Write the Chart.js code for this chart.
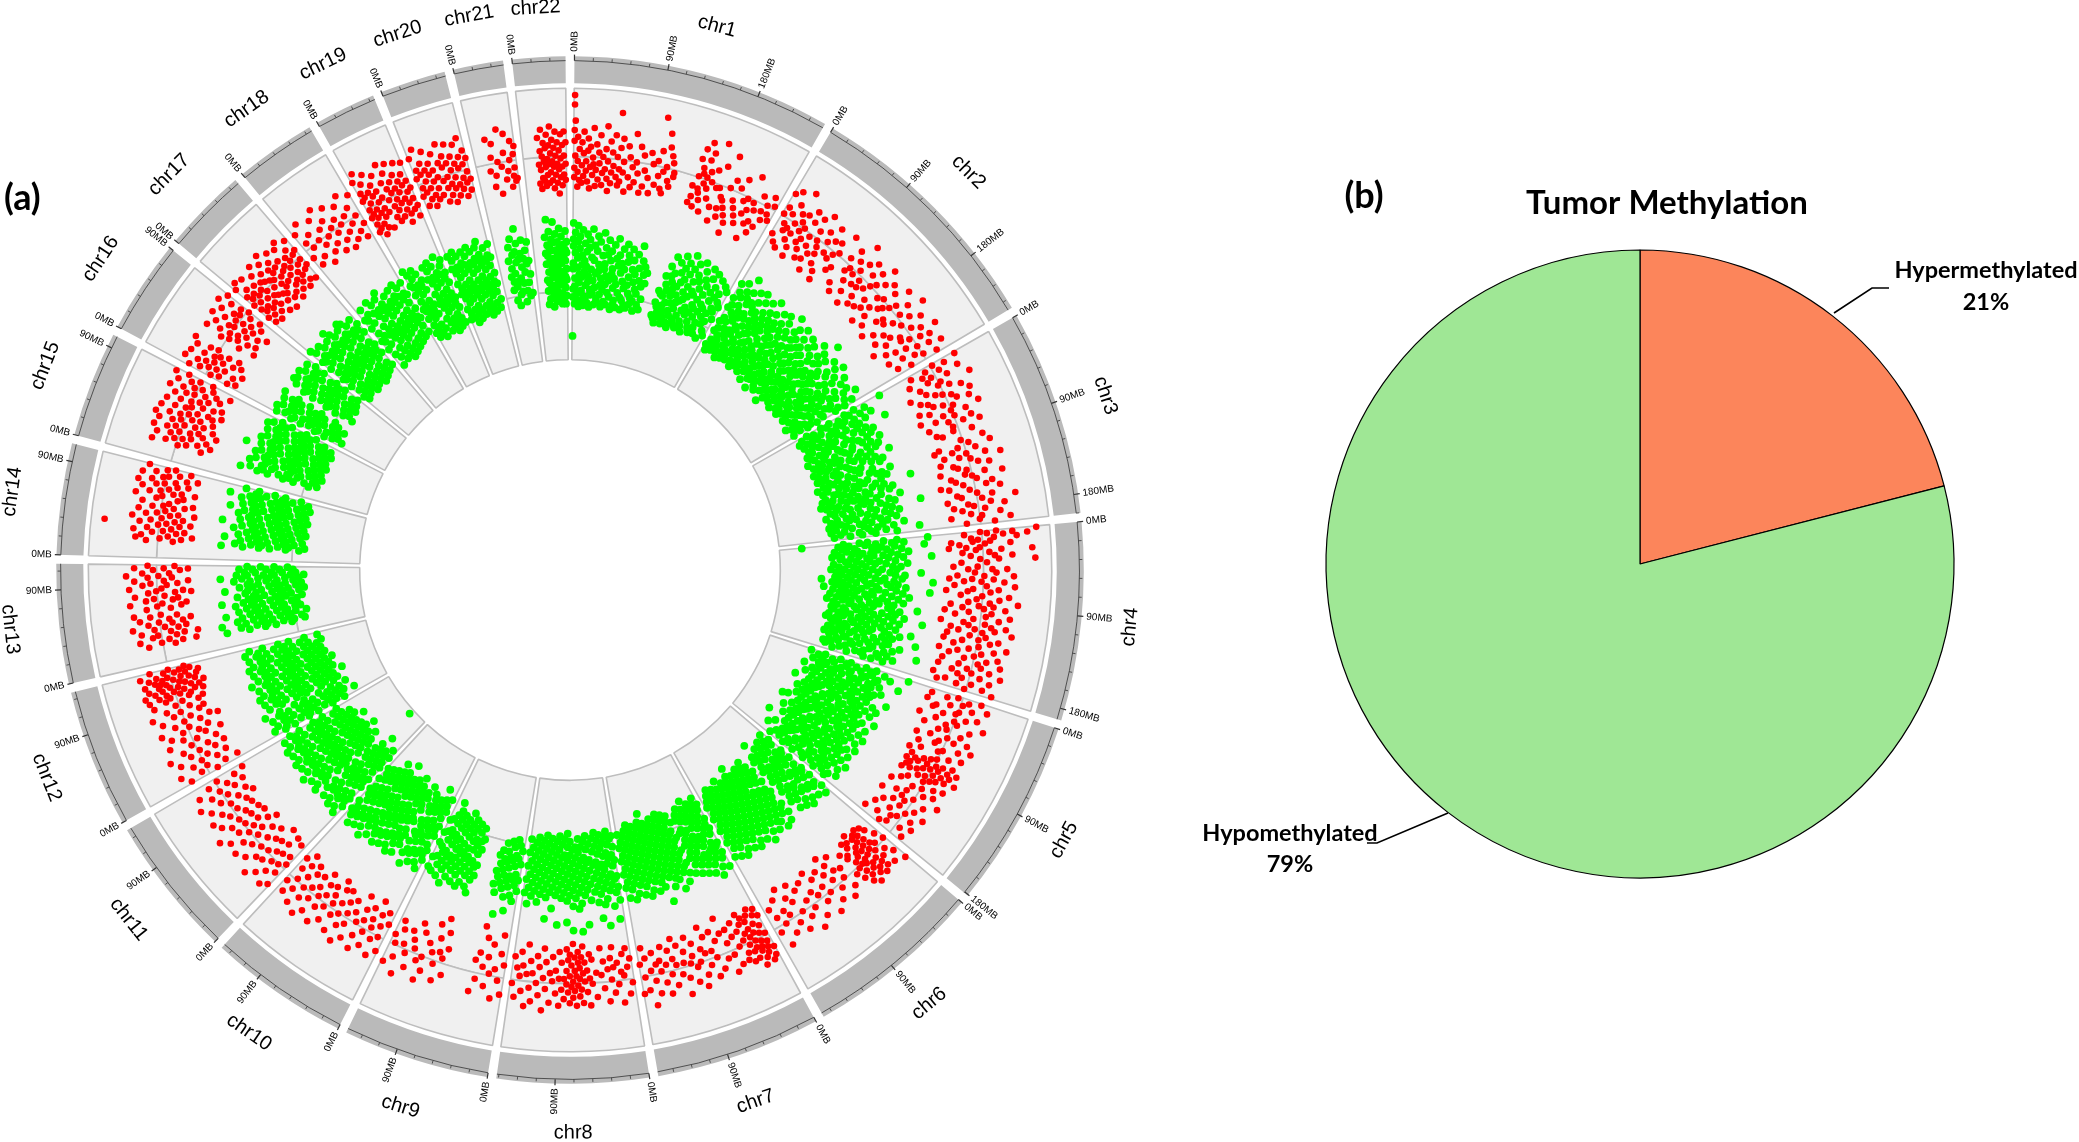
<!DOCTYPE html>
<html>
<head>
<meta charset="utf-8">
<title>Tumor methylation</title>
<script src="https://cdn.jsdelivr.net/npm/chart.js@4"></script>
<style>
  html, body { margin: 0; background: #fff; }
  canvas { position: absolute; top: 0; }
</style>
</head>
<body>
<canvas id="rings" width="1142" height="1142" style="left:0"></canvas>
<canvas id="dots" width="1142" height="1142" style="left:0"></canvas>
<canvas id="pie" width="939" height="1142" style="left:1140px"></canvas>
<script>
const chrNames = ['chr1','chr2','chr3','chr4','chr5','chr6','chr7','chr8','chr9','chr10','chr11','chr12','chr13','chr14','chr15','chr16','chr17','chr18','chr19','chr20','chr21','chr22'];
const chrLengths = [249,243,198,191,181,171,159,146,141,135,135,133,115,107,102,90,81,78,59,63,48,51];
const pieLabels = ['Hypermethylated', 'Hypomethylated'];
const pieValues = [21, 79];

const hyperChr1 = [[1,98,91,72,64,44,37],[2,79,53],[5,67,49,41,30],[7,58,35],[10,63,46,33],[12,71,55,38],[15,49,42],[17,66,57,34],[20,60,45,29],[23,74,52,39],[24,47],[27,62,43,31],[30,56,36],[31,69,48],[35,53,41,32],[38,76,59,44],[41,50,37],[43,65,28],[46,57,42,34],[48,70,47],[52,87,54,39],[55,61,45,33],[57,68,36],[60,51,43],[64,63,29],[67,55,40],[71,73,48,33],[75,52,37],[78,64,44],[83,58,30],[86,47,35],[91,61,42],[95,53,31],[100,89,56,38],[103,64,45],[108,78,49,36],[111,68,53,33],[115,62,43],[118,57,39],[121,50,47],[146,45,32],[148,66,37],[150,74,53],[153,60,44,30],[155,80,56,41],[158,67,49,36],[160,73,54],[163,59,46,28],[167,52,39],[170,83,62],[174,49,34],[178,67,50,24],[183,44,35],[186,77,42,29],[190,53,37],[194,60,32],[198,45,27,19],[202,56,40],[206,64,35],[210,48,30],[214,51,39],[218,70,43],[222,50,33,21],[226,45,36],[230,58,28],[234,47,34],[238,53,41],[242,61,47],[246,55,43]];
const hyperChr2 = [[2,71,54,37],[4,60],[8,75,48,32],[11,57,43],[14,66,46,29],[19,52,38],[21,79,61,44],[26,56,34],[28,63,49,27],[32,53,41],[35,69,45],[38,61,37],[42,50,31],[45,67,43],[49,58,33],[52,73,51,39],[56,47,26],[59,62,42],[63,55,35],[67,69,47],[70,59,31],[74,45,25],[77,61,50],[82,54,38],[85,71,42],[96,57,33],[100,66,47],[103,51,28],[107,60,41],[110,76,49],[114,55,34],[117,63,43],[121,49,26],[124,68,44],[128,59,37],[131,47,31],[135,65,52],[139,56,33],[142,73,42],[146,61,36],[151,50,25],[153,66,41],[157,53,34],[161,62,45],[164,48,28],[169,71,52],[172,57,38],[175,43,23],[180,64,41],[183,55,30],[186,75,47],[191,60,36],[194,51,27],[198,67,39],[203,56,33],[205,45,21],[209,62,44],[213,73,50,29],[217,58,36],[220,65,44],[225,52,27],[228,61,38],[232,70,47],[236,53,31],[240,63,41]];
const hyperChr3 = [[2,73,54],[5,63,47,35],[10,57,43],[14,71,49,31],[18,61,45],[23,54,37],[26,77,51],[30,59,40,27],[35,67,46],[38,51,33],[42,72,57,38],[47,60,41],[50,69,48,29],[54,55,36],[59,74,52],[62,63,45,27],[66,53,38],[71,65,47],[74,58,31],[78,70,49],[83,48,35],[86,62,39],[96,68,51],[101,56,33],[104,72,47,29],[108,60,42],[113,52,35],[116,66,46],[120,77,54,31],[125,59,40],[128,67,43],[132,49,29],[137,62,47],[140,75,52,36],[144,55,39],[149,66,44,27],[152,61,33],[156,71,48],[161,53,38],[164,64,41],[168,81,56,30],[173,62,45],[176,72,49,34],[180,57,40],[185,68,46],[188,54,31],[192,75,52],[196,63,42]];
const hyperChr4 = [[1,63,51,93],[3,75,56,39],[5,68,86],[8,78,61,44],[10,49],[12,58,45,29],[15,73,54,35],[19,50,40,27],[22,66,47,89],[25,57,37],[29,74,61,43],[33,64,50,91],[37,55,36],[42,48,30],[45,70,59,41],[49,62,46],[53,75,53,33],[57,60,44,27],[60,68,51,38],[65,76,55,31],[69,64,45],[72,58,41,25],[77,72,52,36],[81,65,48],[85,79,58,42],[89,61,50,29],[92,70,54,38],[97,60,43,25],[101,74,56,33],[105,66,47],[110,56,40,23],[113,72,61,44],[117,64,49,31],[120,77,55,37],[125,58,46,29],[129,68,53],[132,62,41,27],[137,75,54,35],[141,66,47],[145,57,39,25],[149,70,52,33],[153,62,45],[157,73,56,29],[161,59,42],[165,66,49,27],[169,75,53,38],[173,60,43],[177,68,47,25],[182,55,35],[185,64,44,29],[189,72,51]];
const hyperChr5 = [[2,67,49],[5,58,41,29],[9,73,54],[13,62,45,27],[18,53,35],[21,68,51,33],[25,60,42],[30,75,52],[33,55,38,25],[37,66,47],[42,49,31],[45,61,43],[51,68,52],[54,58,39],[58,73,47,29],[62,64,45],[67,53,33],[70,69,50],[74,60,37],[79,52,29],[82,66,48],[85,59,43,33],[87,71,54],[89,64,47,37],[91,57,40],[93,67,51,31],[96,61,46,35],[98,73,55],[100,65,42,33],[103,59,50,37],[106,55,45,31],[110,68,51],[113,61,39],[118,53,35],[121,64,46],[125,57,29],[129,71,44],[134,52,37],[137,62,43],[141,47,27],[146,58,39],[149,67,46],[153,53,33],[158,60,41],[161,49,29],[165,64,45],[170,56,35],[173,45,25],[177,61,40]];
const hyperChr6 = [[2,73,51],[5,63,44],[10,57,37],[13,69,49,33],[17,60,46],[19,53,41,31],[21,67,36],[23,62,49],[25,57,44,33],[27,70,39],[29,64,51,35],[31,58,46],[33,67,41,29],[35,61,52],[37,55,44,34],[39,72,47],[41,64,53,37],[43,59,32],[45,68,49],[47,54,41],[50,62,43],[54,56,37],[64,61,44],[68,51,31],[72,67,42],[77,56,35],[80,47,27],[85,63,40],[91,53,34],[95,69,46],[100,57,37],[105,49,29],[110,65,44],[116,55,33],[120,71,47],[125,59,36],[131,52,29],[135,66,42],[140,58,37],[146,49,27],[150,63,44],[155,53,33],[161,69,46],[165,57,38]];
const hyperChr7 = [[1,63,37],[3,69,51,31],[5,57,44],[7,72,61,35],[9,65,49],[11,55,41,29],[13,68,59],[15,62,47,33],[17,73,53],[19,58,43,37],[21,66,49],[23,60,33],[25,54,45],[27,67,37,29],[30,59,49],[33,64,41],[37,52,33],[41,65,43],[46,56,36],[49,69,46],[54,57,37,25],[62,63,41],[66,53,33],[70,67,47],[75,57,35],[78,47,27],[82,63,43],[86,71,52],[91,55,37],[94,66,46],[98,51,31],[103,61,41],[106,73,49],[110,57,35],[115,49,29],[118,64,44],[122,55,37],[127,69,47],[130,60,33],[134,51,43],[139,67,45],[142,57,36],[146,75,49],[151,63,39],[154,53,31],[158,65,43]];
const hyperChr8 = [[2,55,37],[6,63,43,29],[11,49,33],[14,69,46],[18,55,39],[23,61,42,27],[26,51,35],[30,67,43],[35,57,37],[38,47,27],[44,63,45],[49,53,35],[52,69,49,31],[55,59,43],[58,51,37],[60,67,45,25],[62,57,33],[64,62,49,41],[66,54,29,37],[68,69,47],[70,58,43,33],[72,63,51,23],[74,55,39],[76,67,47,31],[78,59,35],[80,53,43,27],[83,64,49],[86,57,37],[89,69,49,29],[93,60,43],[97,51,33],[100,67,45],[105,57,37],[108,73,49,27],[113,62,41],[116,53,33],[121,67,46],[124,57,37],[128,71,47,25],[133,60,41],[136,49,31],[140,65,43],[144,55,35]];
const hyperChr9 = [[2,65,43],[7,55,35,21],[12,69,47],[18,51,29],[22,61,39],[27,47,25],[33,57,37,17],[37,67,43],[72,61,41],[76,49,29],[81,67,45,19],[85,55,35],[90,47,25],[96,63,41],[100,71,53],[105,57,35],[111,49,29],[115,65,43],[120,55,37],[125,73,49],[131,61,39],[135,51,33],[139,67,45]];
const hyperChr10 = [[2,63,41],[7,53,33],[10,69,45],[14,57,37],[19,49,27],[22,65,43],[26,55,35],[31,71,47],[34,61,39],[38,51,29],[44,67,45],[49,57,37],[52,73,49],[56,61,41],[61,53,33],[64,69,45],[68,57,35],[73,49,29],[76,65,43],[80,55,37],[85,71,47],[88,59,39],[92,51,31],[97,67,45],[100,57,37],[104,73,49],[109,61,39],[112,53,33],[116,69,45],[121,59,37],[124,51,29],[128,65,43],[132,57,35]];
const hyperChr11 = [[2,69,49],[5,59,43,31],[9,73,53],[14,63,45,29],[17,55,37],[21,69,47],[26,59,39,27],[29,75,51],[33,61,41],[38,53,33],[41,67,45],[47,57,37],[51,71,49],[55,61,43,29],[60,53,35],[63,69,47],[67,59,41],[71,75,51,33],[76,61,43],[79,53,35],[83,67,45],[88,57,37],[91,71,49],[95,61,39],[100,51,31],[103,67,43],[107,57,35],[111,73,49],[116,61,41],[119,53,33],[123,69,45],[128,59,37],[131,51,29]];
const hyperChr12 = [[2,67,45],[6,57,37,27],[10,73,51],[15,61,41],[18,53,33],[22,69,47],[27,59,39],[30,75,51,31],[34,63,43],[39,55,35],[44,71,49],[48,59,41,29],[53,67,45],[56,57,37],[60,73,51],[65,61,41,27],[68,53,33],[72,69,47],[77,59,39],[80,75,53,35],[84,63,45],[89,55,37],[92,71,49,33],[96,61,43],[99,73,57,41],[101,65,49,31],[103,59,37],[105,75,53,45],[107,67,33],[109,61,49,39],[111,71,55,29],[113,63,43],[115,57,47,35],[117,73,61],[119,65,51,39],[121,59,33,45],[123,69,55],[125,63,41,31],[127,75,49],[129,57,37,45],[132,67,53,41]];
const hyperChr13 = [[20,63,43],[23,53,37,27],[26,69,47],[30,59,41],[32,55,35,25],[35,67,45],[39,57,39],[41,73,49,33],[45,61,43],[47,53,35],[50,67,45,29],[54,59,39],[56,71,51],[63,61,43],[66,53,35],[69,73,49,31],[73,61,41],[75,55,37],[78,69,47],[82,59,39,27],[84,53,33],[87,73,49],[91,63,45],[93,57,37],[96,69,47,29],[100,59,41],[102,75,51],[105,63,43],[109,55,35],[111,69,47,29],[114,59,39]];
const hyperChr14 = [[20,61,41],[23,51,35,69],[26,65,45,27],[30,57,39],[32,71,49,33],[35,61,43],[39,53,37,93],[41,67,47,29],[44,59,41],[47,73,51,35],[51,63,45],[53,55,39,27],[56,69,49],[60,59,43],[62,51,35],[65,67,47,29],[70,57,41],[73,73,53,37],[77,63,45],[79,55,39,29],[82,69,49],[86,59,43],[88,73,53,35],[91,63,45],[95,55,37],[97,71,51,29],[100,61,43],[104,53,35],[106,67,47]];
const hyperChr15 = [[20,71,51,33],[23,61,45],[27,55,37,27],[29,69,49],[32,59,43,31],[36,73,53],[38,63,45,35],[41,57,39,25],[45,71,51],[47,61,43,29],[50,75,55,37],[54,65,47],[56,57,41,31],[59,73,51],[63,63,45,33],[65,55,37],[68,71,51,27],[72,61,43],[74,53,35],[77,67,47,29],[81,59,41],[83,73,53],[86,63,45,33],[90,55,37],[92,69,49],[95,59,41,27],[99,73,53],[101,63,43]];
const hyperChr16 = [[2,67,49,35],[5,59,43,29],[9,73,53],[11,63,47,33],[14,57,41],[17,71,51,27],[21,61,45],[23,53,37],[26,69,49,31],[30,59,43],[32,73,53,35],[47,57,41],[50,71,51,29],[54,61,45],[56,53,37],[59,67,47,31],[63,57,41],[65,73,53],[68,63,45,33],[72,55,39],[74,69,49,27],[77,59,43],[80,75,55,35],[84,65,47],[86,57,39],[89,71,51]];
const hyperChr17 = [[1,69,51,37],[3,59,45,31],[6,73,55,41],[9,63,49,35],[11,57,43,29],[14,71,53,39],[18,61,47,33],[20,55,41],[24,67,51,37],[26,59,45,29],[30,73,57,43],[33,63,49,35],[35,55,41,27],[39,69,53,39],[42,61,47,33],[44,75,57,43],[48,65,51,35],[50,59,45,29],[54,71,53,39],[57,61,47,33],[59,55,41],[63,69,51,37],[66,59,45,31],[68,73,55,41],[72,63,49,35],[75,57,43],[78,69,51,33],[80,59,45]];
const hyperChr18 = [[2,67,45],[6,57,37],[10,73,51],[14,61,41],[20,53,33],[24,69,47],[28,59,39],[32,75,51],[36,63,43],[40,55,35],[44,71,49],[48,59,41],[52,53,33],[56,67,45],[60,57,37],[64,73,49],[68,61,41],[72,53,35],[76,69,45]];
const hyperChr19 = [[1,75,59,45,33],[3,65,51,39],[5,81,61,47,35],[8,71,55,43,29],[11,63,49,37],[14,77,59,45,33],[17,67,53,41],[20,61,47,31],[23,73,55,43],[29,65,51,37],[32,79,59,45,33],[35,71,55,41],[38,63,49,35],[41,77,57,45],[44,67,53,39,29],[47,61,47,35],[50,75,57,43],[53,65,51,37],[56,59,45,31],[58,73,53,39]];
const hyperChr20 = [[1,73,57,43],[4,63,49,35],[7,79,59,45],[10,67,53,39],[13,61,47,33],[16,75,57,41],[19,65,51,37],[22,59,45],[25,71,53,39],[30,63,49,33],[33,77,59,43],[36,67,51,37],[39,61,45,31],[42,75,55,41],[45,65,49,35],[48,59,43],[51,73,55,39],[54,63,47,33],[57,77,57,43],[60,67,51,37],[62,61,45]];
const hyperChr21 = [[16,71,47],[19,57,35],[22,67,43],[26,53,29],[30,77,49],[34,59,39],[37,73,45],[40,53,33],[43,67,41],[45,57,47,37],[47,63,39]];
const hyperChr22 = [[18,67,47,33],[20,57,43,29],[22,73,53,37],[24,63,49,35],[26,59,45,31],[28,69,51,39],[30,61,47,33],[32,75,55,41],[34,65,49,35],[36,59,45,29],[38,71,53,39],[40,63,47,33],[42,57,43,25],[44,69,51,37],[46,61,45,31],[48,71,53,39],[50,63,47,35]];

const hypoChr1 = [[1,-3,9,14,27,31,46,52,81],[4,4,19,38,44,57],[8,-1,11,23,30,49,54],[11,7,16,35,41,59],[15,2,21,28,37,47,55],[19,12,25,33,51,58],[22,5,18,29,43,53],[26,9,15,36,40,56],[30,1,22,31,46,50,59],[34,13,24,39,48],[38,6,17,34,44,57],[42,10,27,32,52,55],[47,3,20,37,42,49],[51,14,26,30,45,58],[55,8,19,35,41,54],[60,16,23,38,47,56],[64,11,29,33,50],[69,6,21,36,43,59],[73,18,26,40,52,55],[78,13,24,31,46,57],[83,9,28,37,49],[87,17,22,42,51,58],[92,12,33,39,54],[96,20,27,45,56],[101,15,30,36,48,53],[106,8,25,41,50],[110,19,34,44,57],[115,23,29,38,52],[120,27,35,47,55],[146,37,46,56],[150,25,39,49,58],[154,17,31,40,53,61],[158,9,24,35,47,56],[162,21,28,44,51],[166,12,33,38,55,60],[171,6,19,30,43,49],[175,15,26,36,52,58],[179,10,23,41,46,61],[184,3,18,32,39,54],[188,13,27,37,50,57],[193,8,22,34,45,59],[197,16,29,42,53],[201,5,20,31,47,56],[206,11,25,38,44,60],[210,17,33,40,51],[215,7,21,28,46,55],[219,14,35,41,58],[224,9,24,37,49,53],[228,19,30,43,57],[233,12,26,39,48],[237,22,34,45,59],[241,15,28,36,52],[246,18,31,41,55]];
const hypoChr2 = [[2,7,19,27,39,47,59],[6,13,24,35,44,54,63],[11,4,16,29,37,49,57],[15,10,22,31,42,52,61],[20,-2,14,26,34,46,56],[24,8,18,30,41,48,60],[29,15,25,36,43,53,64],[33,5,17,28,38,50,58],[38,12,21,33,45,55,62],[42,3,19,27,40,47,57],[47,9,23,31,37,51,61],[52,16,26,35,44,54],[56,6,20,29,42,49,59],[61,13,24,32,39,52,63],[65,2,18,28,46,55,58],[70,11,22,34,41,50,60],[75,17,25,37,43,57],[79,7,21,30,47,53,62],[84,14,27,36,45,56],[88,5,19,33,40,49,59],[93,10,23,31,44,54,65],[97,16,28,38,51,57],[102,1,20,35,42,48,61],[107,12,26,30,46,55,60],[111,8,18,37,43,52,67],[116,15,24,33,49,58],[120,4,22,29,41,53,62],[125,11,19,36,45,56,64],[129,17,27,34,47,51],[134,6,23,31,40,55,61],[138,13,21,38,44,50,59],[143,9,28,35,48,57,68],[148,16,25,32,43,54,63],[152,3,20,37,46,52,60],[157,12,29,33,41,56],[161,7,18,26,45,49,62],[166,-4,15,30,39,53,58],[170,10,24,36,42,51,64],[175,19,27,34,47,57],[179,5,22,31,44,55,61],[184,14,28,38,50,59],[188,8,17,35,41,53,63],[193,2,25,33,46,52,60],[197,12,21,39,43,56],[202,16,29,36,48,58],[206,6,23,32,45,54,62],[211,11,27,37,42,51],[215,18,30,40,49,59],[220,9,24,34,47,55],[224,13,20,38,44,57,64],[229,4,26,31,43,53,60],[233,15,28,36,50,58],[238,10,22,35,46,55],[241,17,25,41,49,61]];
const hypoChr3 = [[2,-9,13,21,34,41,53],[6,5,18,27,37,48,58],[11,10,23,30,43,50,61],[15,2,16,26,35,47,55],[20,8,19,32,38,52,59],[24,14,25,33,45,53],[29,-6,17,29,40,49,57],[33,11,21,36,42,55],[38,6,15,28,39,46,60],[43,9,24,31,44,51,58],[47,13,20,37,47,56],[52,4,18,26,35,49,62],[56,12,27,33,41,54],[61,7,16,30,46,52,59],[65,10,22,38,43,57],[70,15,25,32,48,55],[74,1,19,29,40,51,61],[79,13,23,36,44,58],[84,8,17,34,47,53],[88,11,26,31,42,56,60],[95,18,28,37,45,52],[100,5,21,33,49,57],[104,12,16,39,43,54,62],[109,9,24,30,46,55],[113,14,27,35,41,59],[118,-8,19,32,48,51],[122,13,22,37,44,58],[127,7,16,28,40,53,61],[131,10,25,34,47,56],[136,17,29,38,43,55,63],[140,3,21,33,50,59],[145,12,26,31,45,52],[149,8,19,36,42,57],[154,-11,15,27,48,54],[158,11,23,35,41,61],[163,6,17,30,46,53],[167,13,25,39,44,58],[172,9,21,32,51,56],[176,16,28,37,47,60],[181,4,20,34,43,55],[185,12,24,31,49,59],[190,-7,18,29,38,52],[194,10,26,36,45,57]];
const hypoChr4 = [[1,-12,11,21,33,39,51,82],[5,6,15,27,35,47,55],[10,-9,13,23,30,43,52],[14,8,19,26,41,49,58],[19,3,16,31,37,45,56],[23,11,22,29,40,53,60],[27,-14,7,18,34,46,54],[32,13,25,32,42,50],[36,4,20,28,38,48,59],[41,9,15,35,44,55],[45,12,23,30,41,51,61],[50,-6,17,26,37,47,57],[54,6,13,33,43,53],[59,8,21,28,39,49,58],[63,-15,14,24,36,46,55,68],[68,11,19,31,42,52,60],[72,5,16,27,34,48,57],[77,-13,12,25,38,44,53,66],[81,7,20,30,41,50,59],[86,2,15,29,35,47,54],[90,10,22,33,43,52,61],[95,6,18,26,39,49,56],[99,13,24,31,45,51,63],[104,-5,17,28,37,46,58],[108,8,14,34,42,55],[113,11,21,30,40,50,59],[117,4,16,27,36,48,57],[122,-10,12,23,33,44,53],[126,7,19,29,38,49,60],[131,14,25,35,43,54,62],[135,9,20,31,41,52,58],[140,-3,17,26,37,47,56],[144,5,13,28,34,45,51],[149,10,18,32,39,50,59],[153,-8,15,24,42,48,55],[158,12,21,30,36,53,61],[162,3,16,27,44,46,57],[167,8,23,33,40,51],[171,-11,14,25,38,49,56],[176,11,19,29,43,54,60],[180,6,17,31,35,47,58],[185,13,22,28,41,52]];
const hypoChr5 = [[2,-10,15,23,35,43,55,66],[6,8,19,30,38,49,60],[10,3,17,26,37,47,56],[15,12,21,33,41,52,63],[19,-5,14,24,34,44,53,58],[24,9,18,29,39,48,57],[28,15,25,32,45,55,68],[33,6,20,31,40,50,61],[37,11,16,27,36,46,57],[42,13,23,33,43,52,65],[46,-1,18,28,38,47,59],[51,14,26,35,44,54],[55,8,21,30,41,49,60,71],[60,4,17,25,37,51,56],[64,12,22,34,42,53,62],[69,7,19,29,39,46,58],[73,15,24,32,45,55,66],[78,1,20,31,40,50,61],[82,10,17,27,36,48,57],[87,13,23,33,43,52,64],[91,5,18,28,38,47,59],[96,14,26,35,44,54,69],[100,8,21,30,41,49,60,73],[105,3,16,25,37,51,56],[109,12,22,34,42,53,63],[114,7,19,29,39,46,58],[118,15,24,32,45,55,68],[123,4,20,31,40,50,61],[127,10,17,27,36,48,57],[132,13,23,33,43,52,65],[136,6,18,28,38,47,59],[141,14,26,35,44,54,75],[145,9,21,30,41,49,60],[150,3,16,25,37,51,56],[154,12,22,34,42,53,66],[159,7,19,29,39,46,58],[163,15,24,32,45,55,70],[168,5,20,31,40,50,61],[172,11,17,27,36,48,57],[177,13,23,33,43,52,64]];
const hypoChr6 = [[2,9,21,29,41,49,61],[6,3,15,27,35,47,57,68],[11,13,23,31,43,51,63],[15,6,17,29,39,47,59],[20,15,25,33,45,55,66],[24,8,19,31,41,49,61],[29,4,17,25,37,45,57],[33,11,23,33,43,53,64],[38,7,19,27,39,47,59],[42,15,25,35,45,55,71],[47,9,21,31,41,51,61],[51,17,27,37,47,57],[64,13,21,33,43,53],[69,7,19,29,37,49,59],[73,15,25,35,45,55,65],[78,5,21,31,39,51,61],[82,11,17,27,37,47,57],[87,13,23,33,41,53,63],[91,7,19,29,39,49,59],[96,15,25,35,45,55],[100,9,21,31,41,51,61],[105,3,17,27,37,47,57,69],[109,13,23,33,43,53,63],[114,7,19,29,39,49,59],[118,15,25,35,45,55],[123,9,21,31,41,51,61],[127,5,17,27,37,47,57],[132,13,23,33,43,53,65],[136,7,19,29,39,49,59],[141,15,25,35,45,55],[145,9,21,31,41,51,61],[150,5,17,27,37,47,57],[154,13,23,33,43,53,63],[159,7,19,29,39,49,59],[163,15,25,35,45,55],[168,9,21,31,41,51]];
const hypoChr7 = [[2,5,17,25,37,45,57],[6,13,23,33,41,53,63],[11,7,19,27,39,49,59],[15,1,15,23,35,45,55],[20,11,21,31,41,51,61],[24,5,17,27,35,47,57],[29,13,21,33,43,53,65],[33,7,19,29,37,49,59],[38,15,25,35,43,55],[42,9,21,31,41,51,61],[47,17,27,37,45,57],[51,11,23,33,43,53],[59,13,21,31,41,53],[64,7,19,29,39,47,59],[68,15,25,35,45,55],[73,3,21,31,41,51,61],[77,11,17,27,37,47,57],[82,13,23,33,43,53,63],[86,7,19,29,39,49,59],[91,15,25,35,45,55],[95,-3,21,31,41,51,61],[100,9,17,27,37,47,57],[104,13,23,33,43,53],[109,7,19,29,39,49,59],[113,15,25,35,45,55,67],[118,9,21,31,41,51,61],[122,5,17,27,37,47,57],[127,13,23,33,43,53],[131,7,19,29,39,49,59],[136,15,25,35,45,55],[140,9,21,31,41,51,61],[145,5,17,27,37,47,57],[149,13,23,33,43,53],[154,7,19,29,39,49],[158,15,25,35,45,55]];
const hypoChr8 = [[2,7,17,25,37,47,55],[6,-7,13,23,33,41,53],[11,3,19,27,39,49,59],[15,15,25,35,43,55],[20,-11,9,21,31,41,51],[24,5,17,27,35,47,57],[29,-5,13,23,33,43,53],[33,7,19,29,37,49,59],[38,15,25,35,45,55],[44,9,21,31,39,51],[49,-9,17,27,37,47,57],[53,13,23,33,41,53],[58,-14,7,19,29,39,49],[62,3,15,25,35,45,55],[67,11,21,31,41,49],[71,-13,5,17,27,37,47],[76,13,23,33,43,53],[80,-7,9,19,29,39,49,59],[85,15,25,35,43,55],[89,11,21,31,41,51],[94,-9,17,27,37,47,57],[98,13,23,33,43,53],[103,3,19,29,39,49],[107,15,25,35,45,55],[112,-5,11,21,31,41,51],[116,17,27,37,47,57],[121,13,23,33,43,53],[125,7,19,29,39,49],[130,15,25,35,45,55],[134,11,21,31,41,51],[139,5,17,27,37,47],[144,13,23,33,43,53]];
const hypoChr9 = [[2,13,21,33,43],[7,5,17,25,37,47],[11,9,21,31,39,51],[16,-3,15,23,35,45],[20,7,19,29,37,49],[25,13,23,33,41],[29,-7,17,27,35,47],[34,9,21,31,41],[38,15,25,37],[70,17,25,37,45],[74,3,13,23,33,43,53],[79,7,19,27,39,49],[83,15,25,35,43,55],[88,9,21,29,41,51],[92,5,17,27,35,47,57],[97,13,23,31,43,53],[101,7,19,29,37,49,61],[106,15,25,33,45,55],[110,9,21,31,39,51],[115,3,17,25,37,47,57],[119,13,23,33,41,53],[124,7,19,27,39,49,59],[128,15,25,35,43,55,65],[133,9,21,29,41,51],[139,11,19,31,39,49]];
const hypoChr10 = [[2,13,21,33,41,53,63],[6,5,17,25,37,47,57],[11,9,19,31,39,51,61],[15,15,25,35,43,55,69],[20,7,17,29,37,49,59],[24,13,23,31,41,53],[29,3,15,27,35,47,57],[33,11,21,29,39,51,61],[43,15,23,35,45,55,65],[47,7,19,27,37,49,59],[52,13,21,33,41,53],[56,5,17,25,35,47,57],[61,9,19,31,39,51,61],[65,15,25,33,43,55,67],[70,7,17,29,37,49,59],[74,13,23,31,41,53,63],[79,5,15,27,35,47,57],[83,11,21,29,39,51,61],[88,15,25,33,43,55],[92,7,19,27,37,49,59,71],[97,13,21,33,41,53,63],[101,3,17,25,35,47,57],[106,9,19,31,39,51,61],[110,15,23,35,43,55,67],[115,7,17,29,37,49,59],[119,13,21,33,41,53],[124,5,15,27,35,47,57],[128,11,19,31,39,51],[133,15,23,35,45,55]];
const hypoChr11 = [[2,11,19,31,39,51,61],[6,3,15,23,35,45,55,67],[11,7,17,29,37,49,59],[15,13,21,33,41,53,63],[20,5,15,27,35,47,57],[24,9,19,31,39,51,61,73],[29,15,23,35,43,55,65],[33,7,17,29,37,49,59],[38,13,21,33,41,53,95],[47,5,15,27,35,47,57],[51,9,19,31,39,51,61],[56,15,23,35,43,55,67],[60,7,17,29,37,49,59],[65,13,21,33,41,53,63],[69,3,15,27,35,47,57],[74,9,19,31,39,51,61,71],[78,15,23,35,43,55,65],[83,7,17,29,37,49,59],[87,13,21,33,41,53,63],[92,5,15,27,35,47,57],[96,9,19,31,39,51,61],[101,15,23,35,43,55,69],[105,7,17,29,37,49,59],[110,13,21,33,41,53,63],[114,5,15,27,35,47,57],[119,9,19,31,39,51,61],[123,15,23,35,43,55],[128,7,17,29,37,49],[133,13,21,33,41,53]];
const hypoChr12 = [[2,13,21,33,41,53,63],[6,5,15,27,35,47,57],[11,9,19,31,39,51,61,73],[15,15,23,35,43,55,65],[20,7,17,29,37,49,59],[24,13,21,33,41,53,63],[29,3,15,27,35,47,57,69],[38,9,19,31,39,51,61],[42,15,23,35,43,55,65],[47,7,17,29,37,49,59],[51,13,21,33,41,53,63],[56,5,15,27,35,47,57,71],[60,9,19,31,39,51,61],[65,15,23,35,43,55,65],[69,7,17,29,37,49,59],[74,13,21,33,41,53,63],[78,3,15,27,35,47,57],[83,9,19,31,39,51,61,67],[87,15,23,35,43,55],[92,7,17,29,37,49,59],[96,13,21,33,41,53,63],[101,5,15,27,35,47,57],[105,9,19,31,39,51,61],[110,15,23,35,43,55],[114,7,17,29,37,49,59],[119,13,21,33,41,53,63],[123,5,15,27,35,47],[129,9,19,31,39,51,61]];
const hypoChr13 = [[20,-4,13,25,33,45],[24,7,19,27,39,47,55],[29,-7,11,23,31,43,53],[33,5,17,25,37,45],[38,9,21,29,41,49,57],[42,-3,15,23,35,43],[47,7,19,27,39,49,53],[51,13,21,33,41,51],[56,5,17,25,37,47],[60,-5,11,19,31,39,51],[65,15,23,35,43,55],[69,7,19,27,39,47],[74,13,21,33,41,53],[78,-2,15,25,37,45,57],[83,9,19,31,39,51],[87,15,23,35,43,55],[92,5,17,29,37,49],[96,-5,11,23,31,43,53],[101,7,15,27,35,47,57],[105,13,21,33,41,51],[110,9,19,29,39,49],[114,15,25,35,45]];
const hypoChr14 = [[20,-5,11,23,31,43,53],[24,5,17,25,37,45,57],[29,9,21,29,41,49],[33,-3,15,23,35,43,55],[38,7,19,27,39,47],[42,13,21,33,41,53],[47,3,17,25,37,45,57],[51,9,19,31,39,51],[56,-6,15,23,35,43,55],[60,7,17,29,37,49],[65,13,21,33,41,53],[69,5,15,27,35,47,57],[74,9,19,31,39,51],[78,-2,15,23,35,43,55],[83,7,17,29,37,49],[87,13,21,33,41,53],[92,5,15,27,35,47,57],[96,-4,11,19,31,39,51],[101,15,23,35,43,55],[106,7,17,29,37,49]];
const hypoChr15 = [[20,-2,11,19,31,39,51],[24,5,15,27,35,47,57],[29,13,21,33,41,53],[33,3,15,23,35,43,55],[38,7,17,29,37,49,59],[42,13,21,33,41,53],[47,5,15,27,35,47,57],[51,9,19,31,39,51],[56,-4,15,23,35,43,55],[60,7,17,29,37,49,59],[65,13,21,33,41,53],[69,5,15,27,35,47,57],[74,9,19,31,39,51],[78,15,23,35,43,55],[83,7,17,29,37,49,59],[87,13,21,33,41,53],[92,5,15,27,35,47,57],[96,9,19,31,39,51],[101,15,23,35,43]];
const hypoChr16 = [[2,7,19,27,39,47],[6,13,21,33,41,53,61],[10,5,15,27,35,47,57],[15,9,19,31,39,51],[19,15,23,35,43,55],[24,7,17,29,37,49,59],[28,13,21,33,41,53],[33,5,17,27,37,49],[47,17,25,37,45],[51,9,19,31,39,51,59],[56,5,15,23,35,43,55],[60,7,17,29,37,49],[65,13,21,33,41,53],[69,5,15,27,35,47,57],[74,9,19,31,39,51],[78,15,23,35,43,55],[83,7,17,29,37,49],[88,13,21,33,41,53]];
const hypoChr17 = [[2,3,15,23,35,43,55],[6,7,17,29,37,49,59],[11,13,21,33,41,53],[15,5,15,27,35,47,57],[20,9,19,31,39,51],[24,15,23,35,43,55],[29,7,17,29,37,49,59],[33,1,13,21,33,41,53],[38,5,15,27,35,47,57],[42,9,19,31,39,51],[47,15,23,35,43,55],[51,7,17,29,37,49,59],[56,3,13,21,33,41,53],[60,5,15,27,35,47,57],[65,9,19,31,39,51],[69,15,23,35,43,55],[74,7,17,29,37,49],[79,13,21,33,41,53]];
const hypoChr18 = [[2,15,23,35,43],[6,7,17,29,37,49,59],[11,13,21,33,41,53],[19,5,15,27,35,47,57],[23,9,19,31,39,51],[28,15,23,35,43,55],[32,7,17,29,37,49,59],[37,3,13,21,33,41,53],[41,17,25,37,45,57],[46,9,19,31,39,51],[50,15,23,35,43,55],[55,7,17,29,37,49],[59,13,21,33,41,53],[64,5,15,27,35,47],[68,9,19,31,39,51],[73,15,23,35,43],[77,7,17,29,37,49]];
const hypoChr19 = [[1,1,13,21,33,41,53],[4,5,15,27,35,47,57],[8,9,19,31,39,51],[12,3,15,23,35,43,55],[16,7,17,29,37,49,59],[20,13,21,33,41,53],[29,5,15,27,35,47,57],[33,9,19,31,39,51],[37,3,15,23,35,43,55],[41,7,17,29,37,49,59],[45,13,21,33,41,53],[49,1,15,27,35,47,57],[53,9,19,31,39,51],[57,5,15,23,35,43,55]];
const hypoChr20 = [[1,5,15,27,35,47,55],[5,9,19,31,39,51],[9,3,15,23,35,43,55],[13,7,17,29,37,49,59],[17,13,21,33,41,53],[21,5,15,27,35,47,57],[25,9,19,31,39,51],[30,3,15,23,35,43,55],[34,7,17,29,37,49],[38,13,21,33,41,53],[42,5,15,27,35,47,57],[46,1,11,19,31,39,51],[50,15,23,35,43,55],[54,7,17,29,37,49],[58,13,21,33,41,53],[62,5,15,27,35,47]];
const hypoChr21 = [[16,21,33,43],[19,11,27,37,51],[23,5,17,31,41,55],[27,15,23,37,47],[31,-2,9,21,35,45],[35,17,27,39,53],[39,7,21,31,45],[43,15,25,39,49],[47,9,23,33,47]];
const hypoChr22 = [[18,7,19,27,39,47,57],[21,-6,13,21,33,41,53],[24,3,15,25,33,45,53],[27,9,17,29,37,49,59],[30,-4,11,23,31,43,51],[33,5,17,27,35,47,55],[36,11,19,31,39,51],[39,1,15,23,35,43,55],[42,7,19,27,37,49,57],[45,13,21,33,41,53],[48,3,17,25,37,45,57],[50,11,19,31,39,51]];

const hyperByChr = [hyperChr1,hyperChr2,hyperChr3,hyperChr4,hyperChr5,hyperChr6,hyperChr7,hyperChr8,hyperChr9,hyperChr10,hyperChr11,hyperChr12,hyperChr13,hyperChr14,hyperChr15,hyperChr16,hyperChr17,hyperChr18,hyperChr19,hyperChr20,hyperChr21,hyperChr22];
const hypoByChr = [hypoChr1,hypoChr2,hypoChr3,hypoChr4,hypoChr5,hypoChr6,hypoChr7,hypoChr8,hypoChr9,hypoChr10,hypoChr11,hypoChr12,hypoChr13,hypoChr14,hypoChr15,hypoChr16,hypoChr17,hypoChr18,hypoChr19,hypoChr20,hypoChr21,hypoChr22];

const gapDeg = 1;
const startDeg = 0.5;
const trackMid = 345.5, trackHalf = 135.5;
const tickStep = 18, labelStep = 90;

const totalMb = chrLengths.reduce((a, b) => a + b, 0);
const degPerMb = (360 - gapDeg * chrNames.length) / totalMb;

function chrStart(i) {
  let mb = 0;
  for (let k = 0; k < i; k++) mb += chrLengths[k];
  return startDeg + mb * degPerMb + i * gapDeg;
}
function toXY(i, mb, value) {
  const a = (chrStart(i) + mb * degPerMb) * Math.PI / 180;
  const r = trackMid + trackHalf * value / 100;
  return { x: r * Math.sin(a), y: r * Math.cos(a) };
}
function collect(rowsByChr, sign) {
  const out = [];
  rowsByChr.forEach((rows, i) => rows.forEach(row => {
    row.slice(1).forEach(v => out.push(toXY(i, row[0], sign * v)));
  }));
  return out;
}

// ring slices: chromosome, gap, chromosome, gap ...
const sliceData = [];
chrLengths.forEach(len => sliceData.push(len, gapDeg / degPerMb));
const every = (a, b) => sliceData.map((_, i) => i % 2 ? b : a);

function ring(weight, fill, line) {
  return {
    data: sliceData, weight,
    backgroundColor: every(fill, 'rgba(0,0,0,0)'),
    borderColor: every(line, 'rgba(0,0,0,0)'),
    borderWidth: every(line === 'rgba(0,0,0,0)' ? 0 : 1.6, 0)
  };
}
new Chart(document.getElementById('rings'), {
  type: 'doughnut',
  data: {
    datasets: [
      ring(27, '#BABABA', 'rgba(0,0,0,0)'),
      ring(5, 'rgba(0,0,0,0)', 'rgba(0,0,0,0)'),
      ring(68, '#F0F0F0', '#BDBDBD'),
      ring(135, '#F0F0F0', '#BDBDBD'),
      ring(68, '#F0F0F0', '#BDBDBD')
    ]
  },
  options: {
    responsive: false, animation: false, events: [],
    rotation: startDeg, cutout: (210 / 513 * 100) + '%',
    layout: { padding: { left: 56.2, right: 58.2, top: 56.2, bottom: 58.2 } },
    plugins: { legend: { display: false }, tooltip: { enabled: false } }
  }
});

const circosAxis = {
  id: 'circosAxis',
  afterDatasetsDraw(chart) {
    const { ctx, scales: { x, y } } = chart;
    const cx = x.getPixelForValue(0), cy = y.getPixelForValue(0);
    const rOut = x.getPixelForValue(513) - cx;
    ctx.save();
    ctx.strokeStyle = '#333';
    ctx.fillStyle = '#000';
    chrNames.forEach((name, i) => {
      const a0 = chrStart(i), a1 = a0 + chrLengths[i] * degPerMb;
      ctx.lineWidth = 0.8;
      ctx.beginPath();
      ctx.arc(cx, cy, rOut, (a0 - 90) * Math.PI / 180, (a1 - 90) * Math.PI / 180);
      ctx.stroke();
      for (let mb = 0; mb <= chrLengths[i]; mb += tickStep) {
        const deg = a0 + mb * degPerMb, rad = deg * Math.PI / 180;
        const major = mb % labelStep === 0;
        const len = major ? 6 : 3;
        ctx.lineWidth = major ? 1.2 : 0.8;
        ctx.beginPath();
        ctx.moveTo(cx + rOut * Math.sin(rad), cy - rOut * Math.cos(rad));
        ctx.lineTo(cx + (rOut + len) * Math.sin(rad), cy - (rOut + len) * Math.cos(rad));
        ctx.stroke();
        if (major) {
          ctx.save();
          ctx.translate(cx + (rOut + 9) * Math.sin(rad), cy - (rOut + 9) * Math.cos(rad));
          const right = deg <= 180;
          ctx.rotate((right ? deg - 90 : deg + 90) * Math.PI / 180);
          ctx.textAlign = right ? 'left' : 'right';
          ctx.textBaseline = 'middle';
          ctx.font = '10px "Liberation Sans"';
          ctx.fillText(mb + 'MB', 0, 0);
          ctx.restore();
        }
      }
      const mid = (a0 + a1) / 2, midRad = mid * Math.PI / 180;
      ctx.save();
      ctx.translate(cx + 563 * Math.sin(midRad), cy - 563 * Math.cos(midRad));
      ctx.rotate((mid > 90 && mid < 270 ? mid - 180 : mid) * Math.PI / 180);
      ctx.textAlign = 'center';
      ctx.textBaseline = 'middle';
      ctx.font = '20px "Liberation Sans"';
      ctx.fillText(name, 0, 0);
      ctx.restore();
    });
    ctx.font = 'bold 36px "Lato"';
    ctx.textAlign = 'left';
    ctx.textBaseline = 'middle';
    ctx.fillText('(a)', 4, 198);
    ctx.restore();
  }
};

new Chart(document.getElementById('dots'), {
  type: 'scatter',
  data: {
    datasets: [
      { data: collect(hyperByChr, 1), backgroundColor: '#FF0000', pointRadius: 3.3 },
      { data: collect(hypoByChr, -1), backgroundColor: '#00FF00', pointRadius: 3.9 }
    ]
  },
  options: {
    responsive: false, animation: false, events: [],
    elements: { point: { borderWidth: 0 } },
    scales: {
      x: { type: 'linear', min: -570, max: 572, display: false },
      y: { type: 'linear', min: -572, max: 570, display: false }
    },
    plugins: { legend: { display: false }, tooltip: { enabled: false } }
  },
  plugins: [circosAxis]
});

const pieNotes = {
  id: 'pieNotes',
  afterDatasetsDraw(chart) {
    const { ctx } = chart;
    ctx.save();
    ctx.fillStyle = '#000';
    ctx.strokeStyle = '#000';
    ctx.lineWidth = 1.6;
    ctx.textAlign = 'center';
    ctx.textBaseline = 'middle';
    ctx.font = 'bold 36px "Lato"';
    ctx.fillText('(b)', 224, 196);
    ctx.font = 'bold 33px "Lato"';
    ctx.fillText('Tumor Methylation', 527, 203);
    ctx.font = 'bold 23.5px "Lato"';
    ctx.fillText(pieLabels[0], 846, 270);
    ctx.fillText(pieValues[0] + '%', 846, 302);
    ctx.fillText(pieLabels[1], 150, 833);
    ctx.fillText(pieValues[1] + '%', 150, 864);
    ctx.beginPath();
    ctx.moveTo(694, 313); ctx.lineTo(732, 288); ctx.lineTo(749, 288);
    ctx.moveTo(308, 813); ctx.lineTo(237, 843); ctx.lineTo(227, 843);
    ctx.stroke();
    ctx.restore();
  }
};

new Chart(document.getElementById('pie'), {
  type: 'pie',
  data: {
    labels: pieLabels,
    datasets: [{
      data: pieValues,
      backgroundColor: ['#FC855B', '#9FE795'],
      borderColor: '#000',
      borderWidth: 1.2
    }]
  },
  options: {
    responsive: false, animation: false, events: [],
    layout: { padding: { left: 185.4, right: 124.4, top: 249.4, bottom: 263.4 } },
    plugins: { legend: { display: false }, tooltip: { enabled: false } }
  },
  plugins: [pieNotes]
});
</script>
</body>
</html>
